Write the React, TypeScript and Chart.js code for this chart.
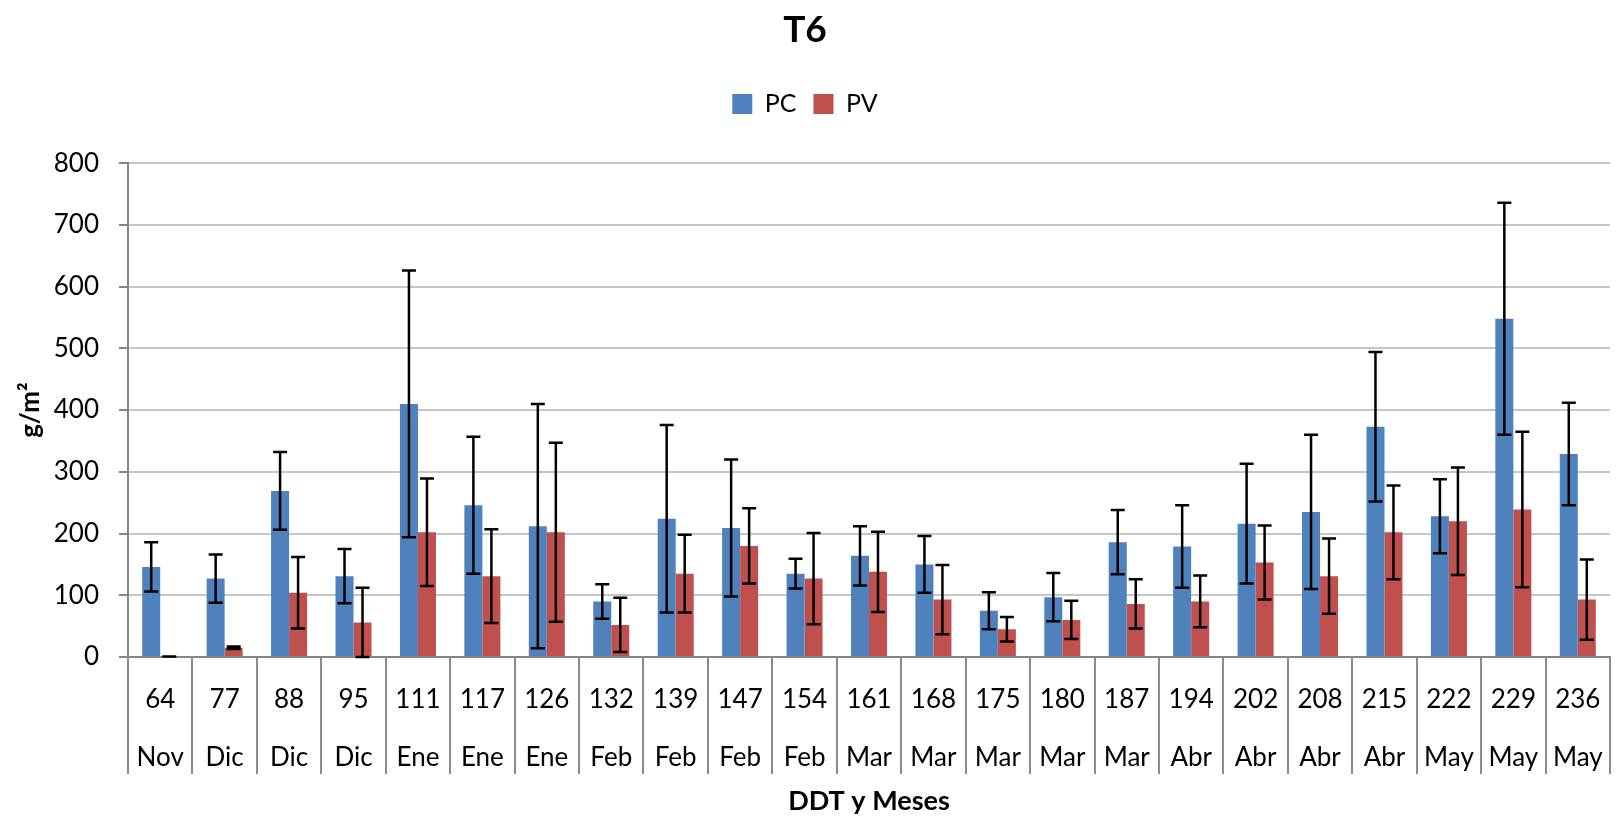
import React, { useEffect, useRef } from 'react';
import { Chart, registerables } from 'chart.js';

Chart.register(...registerables);

const TITLE = 'T6';
const X_TITLE = 'DDT y Meses';
const Y_TITLE = 'g/m²';
const SERIES_NAMES = ['PC', 'PV'];
const DDT = ['64', '77', '88', '95', '111', '117', '126', '132', '139', '147', '154', '161', '168', '175', '180', '187', '194', '202', '208', '215', '222', '229', '236'];
const MONTHS = ['Nov', 'Dic', 'Dic', 'Dic', 'Ene', 'Ene', 'Ene', 'Feb', 'Feb', 'Feb', 'Feb', 'Mar', 'Mar', 'Mar', 'Mar', 'Mar', 'Abr', 'Abr', 'Abr', 'Abr', 'May', 'May', 'May'];
const PC = [146, 127, 269, 131, 410, 246, 212, 90, 224, 209, 135, 164, 150, 75, 97, 186, 179, 216, 235, 373, 228, 548, 329];
const PV = [1, 15, 104, 56, 202, 131, 202, 52, 135, 180, 127, 138, 93, 45, 60, 86, 90, 153, 131, 202, 220, 239, 93];
const PC_ERR = [40, 39, 63, 44, 216, 111, 198, 28, 152, 111, 24, 48, 46, 30, 39, 52, 67, 97, 125, 121, 60, 188, 83];
const PV_ERR = [0, 2, 58, 56, 87, 76, 145, 44, 63, 61, 74, 65, 56, 20, 31, 40, 42, 60, 61, 76, 87, 126, 65];
const Y_MIN = 0;
const Y_MAX = 800;
const Y_STEP = 100;

const FONT = 'Lato';
const ERRS = [PC_ERR, PV_ERR];

const errorBars = {
  id: 'errorBars',
  afterDatasetsDraw(chart: any) {
    const { ctx } = chart;
    const y = chart.scales.y;
    chart.data.datasets.forEach((ds: any, di: number) => {
      const meta = chart.getDatasetMeta(di);
      meta.data.forEach((bar: any, i: number) => {
        const v = ds.data[i];
        const e = ERRS[di][i];
        const top = y.getPixelForValue(v + e);
        const bot = y.getPixelForValue(Math.max(v - e, 0));
        const x = bar.x;
        const hw = 7;
        ctx.save();
        ctx.strokeStyle = '#000';
        ctx.lineWidth = 2.5;
        ctx.beginPath();
        ctx.moveTo(x, top);
        ctx.lineTo(x, bot);
        ctx.moveTo(x - hw, top);
        ctx.lineTo(x + hw, top);
        ctx.moveTo(x - hw, bot);
        ctx.lineTo(x + hw, bot);
        ctx.stroke();
        ctx.restore();
      });
    });
  },
};

const legendHeight = {
  id: 'legendHeight',
  beforeInit(chart: any) {
    const lg = chart.legend;
    if (!lg) return;
    const orig = lg.fit.bind(lg);
    lg.fit = function () {
      orig();
      this.height = 88.8;
    };
  },
};

export default function App() {
  const ref = useRef<HTMLCanvasElement>(null);
  useEffect(() => {
    document.body.style.margin = '0';
    let chart: Chart | null = null;
    let cancelled = false;
    const make = () => {
      if (cancelled || !ref.current) return;
      chart = new Chart(ref.current, {
        type: 'bar',
        data: {
          labels: DDT.map((d, i) => [d, MONTHS[i]]),
          datasets: [
            { label: SERIES_NAMES[0], data: PC, backgroundColor: '#4F81BD', borderWidth: 0 },
            { label: SERIES_NAMES[1], data: PV, backgroundColor: '#C0504D', borderWidth: 0 },
          ],
        },
        options: {
          responsive: false,
          animation: false,
          layout: { padding: { left: 0, right: 11, top: 0, bottom: 0 } },
          datasets: { bar: { categoryPercentage: 0.559, barPercentage: 1 } },
          plugins: {
            title: {
              display: true,
              text: TITLE,
              color: '#000',
              font: { family: FONT, size: 37, weight: 'bold' },
              padding: { top: 8, bottom: 22 },
            },
            legend: {
              display: true,
              position: 'top',
              labels: {
                boxWidth: 20,
                boxHeight: 20,
                padding: 17,
                color: '#000',
                font: { family: FONT, size: 25 },
              },
            },
            tooltip: { enabled: false },
          },
          scales: {
            x: {
              offset: true,
              grid: {
                display: true,
                offset: true,
                drawOnChartArea: false,
                drawTicks: true,
                tickLength: 117,
                color: '#8C8C8C',
                tickColor: '#8C8C8C',
                lineWidth: 2,
              },
              border: { display: true, color: '#868686', width: 2 },
              ticks: {
                autoSkip: false,
                maxRotation: 0,
                minRotation: 0,
                padding: -103,
                color: '#000',
                font: { family: FONT, size: 26, lineHeight: 58 / 26 },
              },
              title: {
                display: true,
                text: X_TITLE,
                color: '#000',
                font: { family: FONT, size: 27, weight: 'bold' },
                padding: { top: 0, bottom: 0 },
              },
              afterFit(scale: any) {
                scale.height = 160;
              },
            },
            y: {
              min: Y_MIN,
              max: Y_MAX,
              grid: {
                color: '#C6C6C6',
                lineWidth: 2,
                drawTicks: true,
                tickLength: 9,
                tickColor: '#868686',
              },
              border: { display: true, color: '#868686', width: 2 },
              ticks: {
                stepSize: Y_STEP,
                padding: 20,
                color: '#000',
                font: { family: FONT, size: 26 },
              },
              title: {
                display: true,
                text: Y_TITLE,
                color: '#000',
                font: { family: FONT, size: 26, weight: 'bold' },
                padding: { top: 15, bottom: 0 },
              },
              afterFit(scale: any) {
                scale.width = 128;
              },
            },
          },
        } as any,
        plugins: [errorBars, legendHeight],
      });
    };
    const fonts: any = (document as any).fonts;
    const p = fonts
      ? Promise.all([fonts.load('26px Lato'), fonts.load('bold 26px Lato')])
      : Promise.resolve();
    p.then(make, make);
    return () => {
      cancelled = true;
      if (chart) chart.destroy();
    };
  }, []);
  return (
    <div style={{ width: 1621, height: 817 }}>
      <canvas ref={ref} width={1621} height={817} style={{ display: 'block' }} />
    </div>
  );
}
